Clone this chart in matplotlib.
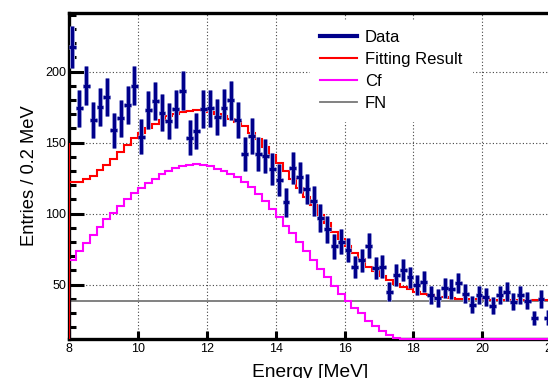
import numpy as np
import matplotlib
matplotlib.use('Agg')
import matplotlib.pyplot as plt
from matplotlib.lines import Line2D
from matplotlib.ticker import MultipleLocator

plt.rcParams['font.family'] = ['Liberation Sans', 'DejaVu Sans']

# ---------------- data ----------------
x_lo, x_hi = 8.0, 22.0
n_bins = 70
y_lo, y_hi = 12.0, 241.0

data_counts = [
    217, 174, 190, 166, 175, 182, 158.5, 167, 176.5, 190,
    154, 173, 179, 171, 165, 173.5, 186.6, 153.5, 158, 173.5,
    174, 168, 174.5, 179.6, 166, 142, 154.7, 142, 140.6, 131.3,
    123.7, 107.8, 132, 125.4, 117.2, 109, 96.7, 89, 76.8, 80.3,
    74.4, 62.2, 67, 77.3, 61.5, 62.7, 45, 56.8, 60, 55,
    49.8, 52, 42.7, 40.4, 47.4, 46.8, 51, 43.5, 35.7, 42.7,
    41, 35, 42.7, 45, 38, 42.7, 38.7, 26.3, 39.7, 26.6,
]

fit_result = [
    122.5, 122, 124, 126.5, 130.5, 134.3, 138.5, 143, 148.4, 153,
    156.6, 160, 163, 166, 168.8, 170.2, 171.8, 172.5, 173, 172.8,
    171.5, 170, 168.8, 166.5, 164.8, 161.3, 156.6, 152.4, 147.2, 141.3,
    135.9, 129.6, 124.2, 117.9, 111.5, 106.1, 99.1, 93.2, 87.3, 81.8,
    76.8, 72, 68, 62.7, 59.2, 56.1, 53.3, 50.5, 48.6, 46.8,
    45, 43.5, 42.7, 41.5, 41.1, 40.6, 40.1, 40, 39.8, 39.6,
    39.5, 39.4, 39.3, 39.2, 39.1, 39.1, 39, 39, 39, 39,
]
fit_left_edge = 150

cf_component = [
    67, 73.3, 79.4, 84.7, 90.6, 96.2, 100.5, 105.5, 110.2, 114.6,
    118.2, 121.7, 124.6, 127.5, 130, 131.8, 133.3, 134.2, 134.6, 134.3,
    133.2, 131.7, 130, 127.8, 125.5, 122.5, 118.5, 114, 109, 103.5,
    97.6, 91.5, 86, 79.8, 73.3, 67.6, 61, 55, 49.2, 43.5,
    38.2, 33.8, 29.8, 24.5, 20.8, 17.6, 14.8, 12.2, 10, 8.2,
    6.5, 5, 4, 3, 2.5, 2, 1.6, 1.3, 1, 0.8,
    0.6, 0.5, 0.4, 0.3, 0.3, 0.2, 0.2, 0.1, 0.1, 0.1,
]
cf_left_edge = 67

fn_level = 38.5

x_ticks = [8, 10, 12, 14, 16, 18, 20, 22]
y_ticks = [50, 100, 150, 200]

legend_labels = ['Data', 'Fitting Result', 'Cf', 'FN']

# ---------------- derived ----------------
edges = np.linspace(x_lo, x_hi, n_bins + 1)
centers = 0.5 * (edges[:-1] + edges[1:])
half_w = 0.5 * (edges[1] - edges[0])
counts = np.array(data_counts)
errs = np.sqrt(counts)

navy = '#00008b'
halo = '#a4a8dc'

fig = plt.figure(figsize=(5.48, 3.78), dpi=100)
W, H = 548, 378
ax_l, ax_r, ax_t, ax_b = 69, 551.3, 13.3, 338.5
ax = fig.add_axes([ax_l / W, 1 - ax_b / H, (ax_r - ax_l) / W, (ax_b - ax_t) / H])

ax.set_xlim(x_lo, x_hi)
ax.set_ylim(y_lo, y_hi)

# grid
for xv in x_ticks[1:-1]:
    ax.axvline(xv, color='#444444', lw=0.8, ls=(0, (1, 2)), zorder=1)
for yv in y_ticks:
    ax.axhline(yv, color='#444444', lw=0.8, ls=(0, (1, 2)), zorder=1)

# components
ax.axhline(fn_level, color='#777777', lw=1.3, zorder=2)
cf_draw = np.clip(np.array(cf_component), y_lo, None)
ax.stairs(cf_draw, edges, color='#ff00ff', lw=1.5, baseline=None, zorder=3, clip_on=False)
ax.vlines(x_lo, y_lo, cf_left_edge, color='#ff00ff', lw=1.5, zorder=3)
ax.stairs(fit_result, edges, color='#ff0000', lw=1.5, baseline=None, zorder=4)
ax.vlines(x_lo, y_lo, fit_left_edge, color='#ff0000', lw=1.5, zorder=4)

# data (soft halo underneath, then the navy bars)
ax.errorbar(centers, counts, yerr=errs, xerr=half_w, fmt='none',
            ecolor=halo, elinewidth=3.6, capsize=0, zorder=5)
ax.errorbar(centers, counts, yerr=errs, xerr=half_w, fmt='none',
            ecolor=navy, elinewidth=2.3, capsize=0, zorder=6)

# axes styling
for s in ['left', 'bottom', 'top']:
    ax.spines[s].set_linewidth(2.4)
    ax.spines[s].set_color('black')
ax.spines['right'].set_visible(False)
ax.set_xticks(x_ticks)
ax.set_yticks(y_ticks)
ax.yaxis.set_minor_locator(MultipleLocator(10))
ax.tick_params(axis='x', which='major', direction='in', length=5.8, width=2.2,
               labelsize=9, pad=3.5, top=False)
ax.tick_params(axis='x', which='minor', bottom=False, top=False)
ax.tick_params(axis='y', which='major', direction='in', length=10.5, width=2.2,
               labelsize=9, pad=2, right=False)
ax.tick_params(axis='y', which='minor', direction='in', length=5, width=2.2, right=False)

ax.set_xlabel('Energy [MeV]', fontsize=13.8, labelpad=6)
ax.set_ylabel('Entries / 0.2 MeV', fontsize=13.2, labelpad=5)

handles = [
    Line2D([], [], color=navy, lw=3),
    Line2D([], [], color='#ff0000', lw=1.5),
    Line2D([], [], color='#ff00ff', lw=1.5),
    Line2D([], [], color='#777777', lw=1.3),
]
leg = ax.legend(handles, legend_labels, loc='upper left',
                bbox_to_anchor=(310 / W, 1 - 20 / H), bbox_transform=fig.transFigure,
                borderaxespad=0, borderpad=0.6, fontsize=12, labelspacing=0.42,
                handlelength=2.2, handletextpad=0.48, frameon=True, fancybox=False,
                framealpha=1, facecolor='white', edgecolor='white')
leg.set_zorder(10)

fig.savefig('out.png', dpi=100)
